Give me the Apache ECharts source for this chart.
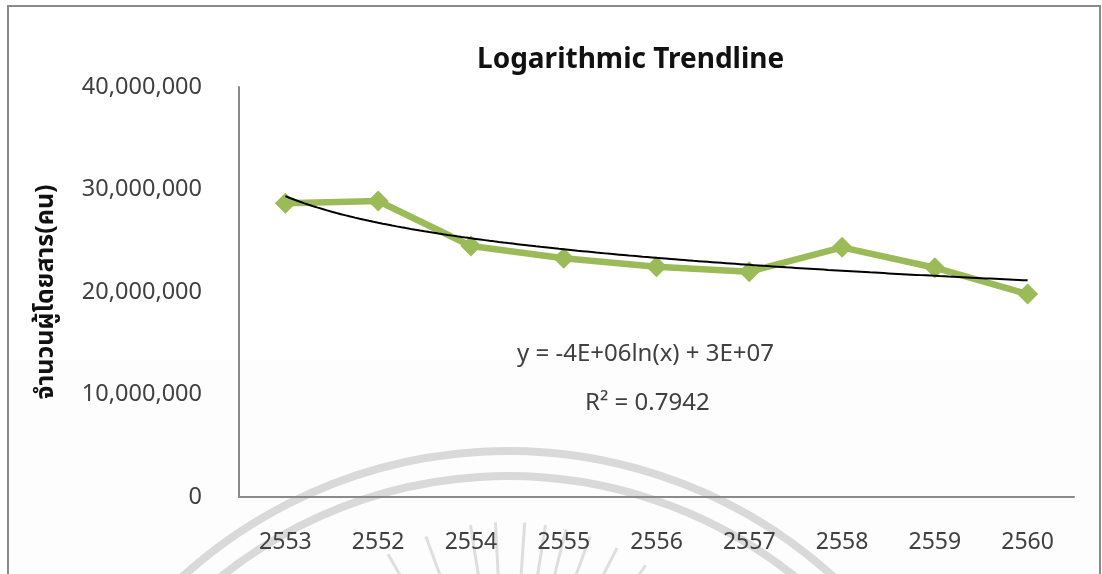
<!DOCTYPE html>
<html>
<head>
<meta charset="utf-8">
<script src="https://cdn.jsdelivr.net/npm/echarts@6/dist/echarts.min.js"></script>
<style>
html,body{margin:0;padding:0;background:#fff;}
#chart{width:1102px;height:574px;}
</style>
</head>
<body>
<div id="chart"></div>
<script>
// ---- data ----
const categories = ['2553','2552','2554','2555','2556','2557','2558','2559','2560'];
const passengers = [28650000, 28880000, 24490000, 23290000, 22470000, 21980000, 24360000, 22370000, 19800000];
const yTicks = [0, 10000000, 20000000, 30000000, 40000000];
const titleText = 'Logarithmic Trendline';
const yAxisTitle = 'จำนวนผู้โดยสาร(คน)';
const equationText = 'y = -4E+06ln(x) + 3E+07';
const r2Text = 'R² = 0.7942';

// ---- logarithmic regression of the series (Excel trendline, x = 1..n) ----
const n = passengers.length;
const lx = passengers.map((_, i) => Math.log(i + 1));
const mx = lx.reduce((a, b) => a + b, 0) / n;
const my = passengers.reduce((a, b) => a + b, 0) / n;
let sxy = 0, sxx = 0;
for (let i = 0; i < n; i++) { sxy += (lx[i] - mx) * (passengers[i] - my); sxx += (lx[i] - mx) * (lx[i] - mx); }
const slope = sxy / sxx;
const intercept = my - slope * mx;
const trend = [];
for (let k = 0; k <= 160; k++) {
  const x = 1 + k * (n - 1) / 160;
  trend.push([x, intercept + slope * Math.log(x)]);
}

const FONT = '"Noto Sans", "Noto Sans Thai", "DejaVu Sans", sans-serif';
const chart = echarts.init(document.getElementById('chart'), null, {renderer: 'canvas'});

// faint watermark (logo arcs and rays)
const wmCx = 508, wmCy = 935;
const rays = [];
const rcx = 508, rcy = 762;
[-40, -30, -20, -9, -3, 4, 9, 14, 20, 27, 35].forEach(a => {
  const rad = a * Math.PI / 180;
  rays.push({
    type: 'line', silent: true, z: -10,
    shape: {x1: rcx + Math.sin(rad) * 240, y1: rcy - Math.cos(rad) * 240, x2: rcx + Math.sin(rad) * 140, y2: rcy - Math.cos(rad) * 140},
    style: {stroke: '#dedede', lineWidth: 3}
  });
});

chart.setOption({
  backgroundColor: '#ffffff',
  animation: false,
  title: {
    text: titleText, left: 472, top: 41,
    textStyle: {fontFamily: FONT, fontSize: 28, fontWeight: 'bold', color: '#111'}
  },
  grid: {left: 239, top: 87, right: 28, bottom: 77, containLabel: false},
  xAxis: [{
    type: 'category', data: categories, boundaryGap: true,
    axisLine: {show: true, lineStyle: {color: '#8a8a8a', width: 2}},
    axisTick: {show: false},
    axisLabel: {fontFamily: FONT, fontSize: 23, color: '#404040', margin: 34}
  }, {
    type: 'value', min: 0.5, max: n + 0.5, show: false
  }],
  yAxis: {
    type: 'value', min: yTicks[0], max: yTicks[yTicks.length - 1], interval: yTicks[1] - yTicks[0],
    name: yAxisTitle, nameLocation: 'middle', nameGap: 181, nameRotate: 90,
    nameTextStyle: {fontFamily: FONT, fontSize: 25, fontWeight: 'bold', color: '#111'},
    axisLine: {show: true, lineStyle: {color: '#8a8a8a', width: 2}},
    axisTick: {show: false},
    splitLine: {show: false},
    axisLabel: {fontFamily: FONT, fontSize: 23.5, color: '#404040', margin: 37,
      formatter: v => v.toLocaleString('en-US')}
  },
  series: [{
    type: 'line', data: passengers, xAxisIndex: 0,
    symbol: 'diamond', symbolSize: 21, showSymbol: true,
    lineStyle: {color: '#9BBB59', width: 6.5},
    itemStyle: {color: '#9BBB59'},
    z: 2
  }, {
    type: 'line', data: trend, xAxisIndex: 1, showSymbol: false, symbol: 'none',
    lineStyle: {color: '#000', width: 2}, smooth: false, z: 3
  }],
  graphic: [
    {type: 'rect', silent: true, z: -20, shape: {x: 8, y: 360, width: 1092, height: 214}, style: {fill: '#fdfdfd'}},
    {type: 'arc', silent: true, z: -10, shape: {cx: wmCx, cy: wmCy, r: 484, startAngle: Math.PI * 1.1, endAngle: Math.PI * 1.9}, style: {stroke: '#d9d9d9', lineWidth: 8, fill: null}},
    {type: 'arc', silent: true, z: -10, shape: {cx: wmCx, cy: wmCy, r: 459, startAngle: Math.PI * 1.1, endAngle: Math.PI * 1.9}, style: {stroke: '#d9d9d9', lineWidth: 8, fill: null}},
    ...rays,
    {type: 'rect', silent: true, z: 100, shape: {x: 8, y: 6, width: 1092, height: 580}, style: {fill: null, stroke: '#8a8a8a', lineWidth: 2}},
    {type: 'text', silent: true, z: 100, left: 517, top: 342, style: {text: equationText, fontFamily: FONT, fontSize: 24, fill: '#404040'}},
    {type: 'text', silent: true, z: 100, left: 585, top: 391, style: {text: r2Text, fontFamily: FONT, fontSize: 24, fill: '#404040'}}
  ]
});
</script>
</body>
</html>
